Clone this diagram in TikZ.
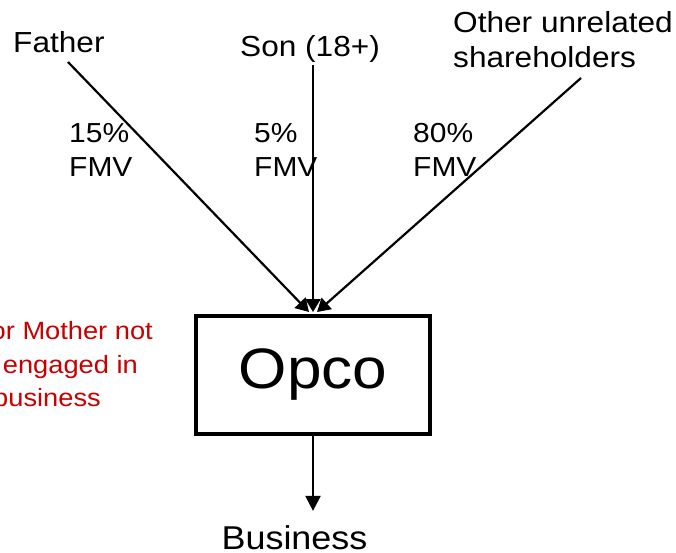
\documentclass[tikz,border=0pt]{standalone}
\usepackage{fontspec}
\setmainfont{Liberation Sans}[FakeStretch=1.09]
\usetikzlibrary{arrows.meta}
\definecolor{notered}{RGB}{200,0,0}
\begin{document}
\begin{tikzpicture}[x=1pt,y=-1pt,
  holder/.style={inner sep=0pt,anchor=base west,font=\fontsize{29}{35}\selectfont},
  pct/.style={inner sep=0pt,anchor=base west,align=left,font=\fontsize{27.5}{34}\selectfont},
  note/.style={inner sep=0pt,anchor=base east,text=notered,font=\fontsize{25}{33}\selectfont},
  company/.style={draw,line width=4pt,minimum width=234pt,minimum height=118pt,inner sep=0pt,font=\fontsize{57}{60}\selectfont},
  owns/.style={line width=2.2pt,-{Triangle[length=13pt,width=15pt]}},
  flows/.style={line width=2.2pt,-{Triangle[length=15pt,width=15pt]}}]
\useasboundingbox (0,0) rectangle (676,553);

% shareholders (a multi-line node sits on its last baseline)
\node[holder] (father) at (13,53) {Father};
\node[holder] (son) at (240,57) {Son (18+)};
\node[holder,align=left] (others) at (453,68) {Other unrelated\\shareholders};

% company and its business
\node[company] (opco) at (313,375) {Opco};
\node[inner sep=0pt,anchor=base,font=\fontsize{33}{36}\selectfont] (business) at (294.5,549) {Business};

% ownership percentages
\node[pct] (pf) at (69,177) {15\%\\FMV};
\node[pct] (ps) at (254,177) {5\%\\FMV};
\node[pct] (po) at (413,177) {80\%\\FMV};

% note on the left
\node[note] (n1) at (153,339) {or Mother not};
\node[note] (n2) at (138,373) {engaged in};
\node[note] (n3) at (101,406) {business};

% line ends
\coordinate (fs) at (68,62);
\coordinate (ss) at (313,65);
\coordinate (os) at (581,78);
\coordinate (ft) at (309,312);
\coordinate (st) at (313,312);
\coordinate (ot) at (317,312);

\draw[owns] (fs) -- (ft);
\draw[owns] (ss) -- (st);
\draw[owns] (os) -- (ot);
\draw[flows,shorten >=14pt] (opco.south) -- (opco.south |- business.north);
\end{tikzpicture}
\end{document}
